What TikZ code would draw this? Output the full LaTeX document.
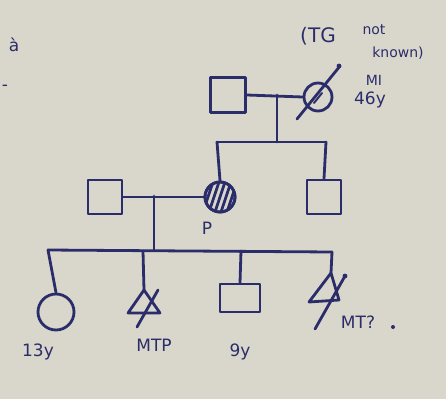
\documentclass[tikz,border=0pt]{standalone}
\usepackage{fontspec}
\setmainfont{DejaVu Sans}
\definecolor{paper}{HTML}{D9D6CB}
\definecolor{ink}{HTML}{2B2D6B}
\tikzset{
  male/.style={draw=ink, line width=2.8pt, minimum width=#1, minimum height=#1, inner sep=0pt, rectangle},
  female/.style={draw=ink, line width=2.8pt, minimum size=#1, inner sep=0pt, circle},
  lbl/.style={text=ink, font=\fontsize{17}{18}\selectfont, inner sep=1pt},
  slbl/.style={text=ink, font=\fontsize{14}{15}\selectfont, inner sep=1pt}
}
\begin{document}
\begin{tikzpicture}[x=1pt,y=-1pt, color=ink, line width=2.8pt, line cap=round, line join=round]
\fill[paper, draw=none] (0,0) rectangle (446,399);
\useasboundingbox (0,0) rectangle (446,399);

% Generation I
\node[male=35pt] (gf) at (228,95) {};
\node[female=28pt] (gm) at (318,97) {};
\coordinate (gfgm) at (277,95);
\coordinate (sib1) at (277,142);
\coordinate (sib1l) at (217,142);
\coordinate (sib1r) at (326,142);
\coordinate (gmd1) at (340,66);
\coordinate (gmd2) at (297,119);
\draw[line width=2pt] (gm.center) ++(-4,6) -- ++(8,-10);
\draw (gmd1) -- (gmd2);
\draw (gf.east) -- (gm.west);
\draw (gfgm) -- (sib1);
\draw (sib1l) -- (sib1r);

% Generation II
\node[male=34pt] (f) at (105,197) {};
\node[female=30pt] (m) at (220,197) {};
\node[male=34pt] (u) at (324,197) {};
\begin{scope}
  \clip (220,197) circle (14);
  \foreach \k in {-30,-24,...,30} {
    \draw[line width=2.8pt] (220+\k-6,215) -- (220+\k+6,179);
  }
\end{scope}
\node[female=30pt] at (220,197) {};
\draw (sib1l) -- (m.north);
\draw (sib1r) -- (u.north);
\coordinate (fm) at (154,196);
\draw (f.east) -- (m.west);
\coordinate (sib2) at (154,250);
\draw (fm) -- (sib2);

% Generation III
\coordinate (sib2l) at (48,250);
\coordinate (sib2r) at (332,252);
\draw (sib2l) -- (sib2r);
\node[female=36pt] (c1) at (56,312) {};
\coordinate (t1) at (144,290);
\coordinate (t1l) at (128,313);
\coordinate (t1r) at (160,313);
\draw (t1) -- (t1l) -- (t1r) -- cycle;
\draw (158,290) -- (137,327);
\node[male=28pt, minimum width=40pt] (c3) at (240,298) {};
\coordinate (t2) at (331,273);
\coordinate (t2l) at (309,302);
\coordinate (t2r) at (339,300);
\draw (t2) -- (t2l) -- (t2r) -- cycle;
\draw (345,276) -- (315,329);
\fill (345,276) circle (2.4);
\fill (339,66) circle (2.4);

\draw (sib2l) -- (c1.north);
\draw (143,251) -- (t1);
\draw (241,251) -- (c3.north);
\draw (sib2r) -- (t2);

% labels
\node[lbl] (p) at (207,228) {P};
\node[lbl] (l1) at (38,352) {13y};
\node[lbl] (l2) at (154,345) {MTP};
\node[lbl] (l3) at (240,352) {9y};
\node[lbl] (l4) at (358,322) {MT?};
\fill (393,327) circle (2);
\node[lbl, font=\fontsize{20}{21}\selectfont] (tg) at (318,36) {(TG};
\node[slbl] (nk1) at (374,30) {not};
\node[slbl] (nk2) at (398,53) {known)};
\node[slbl] (mi) at (374,80) {MI};
\node[lbl] (age) at (370,100) {46y};
\node[lbl] (a1) at (14,45) {à};
\node[lbl] (a2) at (5,88) {-};
\end{tikzpicture}
\end{document}
